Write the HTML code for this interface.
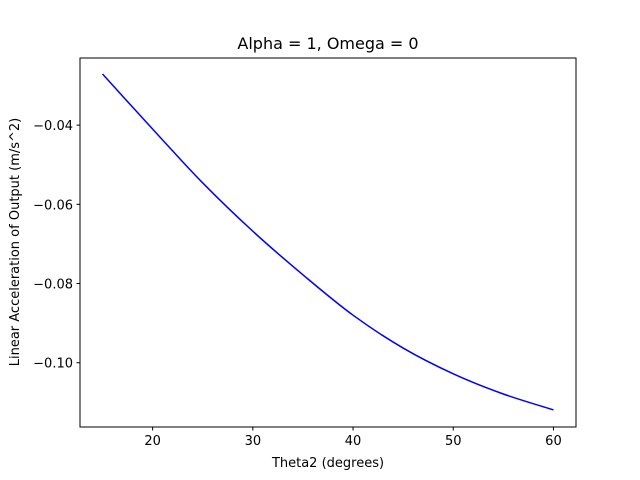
<!DOCTYPE html>
<html><head><meta charset="utf-8"><style>
body{margin:0;background:#fff}
svg{display:block;font-family:"DejaVu Sans","Liberation Sans",sans-serif}
</style></head><body>
<svg id="chart" width="640" height="480">
<rect x="0" y="0" width="640" height="480" fill="#fff"/>
<text x="328" y="49" text-anchor="middle" font-size="16">Alpha = 1, Omega = 0</text>
<text x="328" y="467" text-anchor="middle" font-size="13">Theta2 (degrees)</text>
<text x="19" y="242" text-anchor="middle" font-size="13" transform="rotate(-90 19 242)">Linear Acceleration of Output (m/s^2)</text>
<g id="ticks"></g>
<path id="line" fill="none" stroke="#0000ff" stroke-width="1.5"/>
<rect x="80" y="58" width="496" height="369" fill="none" stroke="#000" stroke-width="1"/>
</svg>
<script>
const thetas=[15,20,25,30,35,40,45,50,55,60];
const accel=[-0.0271,-0.0410,-0.0546,-0.0668,-0.0778,-0.0880,-0.0963,-0.1028,-0.1079,-0.1119];
const xTicks=[20,30,40,50,60];
const yTicks=[-0.04,-0.06,-0.08,-0.10];
const yTickLabels=["−0.04","−0.06","−0.08","−0.10"];
const X0=80,X1=576,Y0=58,Y1=427;
const xmin=12.75,xmax=62.25,ymin=-0.11623,ymax=-0.02305;
function sx(v){return X0+(v-xmin)/(xmax-xmin)*(X1-X0);}
function sy(v){return Y1-(v-ymin)/(ymax-ymin)*(Y1-Y0);}
const NS="http://www.w3.org/2000/svg";
const g=document.getElementById('ticks');
function mk(t,a){const e=document.createElementNS(NS,t);for(const k in a)e.setAttribute(k,a[k]);return e;}
xTicks.forEach(v=>{
 const x=sx(v);
 const l=mk('line',{x1:x,x2:x,y1:Y1,y2:Y1+3.5,stroke:'#000'});
 
 
 g.appendChild(l);
 const t=mk('text',{x:x,y:Y1+18,'text-anchor':'middle','font-size':'13'});
 
 
 t.textContent=v;g.appendChild(t);
});
yTicks.forEach((v,i)=>{
 const y=sy(v);
 const l=mk('line',{x1:X0-3.5,x2:X0,y1:y,y2:y,stroke:'#000'});
 
 
 g.appendChild(l);
 const t=mk('text',{x:X0-7,y:y+5,'text-anchor':'end','font-size':'13'});
 
 
 t.textContent=yTickLabels[i];g.appendChild(t);
});
const pts=thetas.map((t,i)=>[sx(t),sy(accel[i])]);
let d='M'+pts[0][0]+','+pts[0][1];
for(let i=0;i<pts.length-1;i++){
 const p0=pts[Math.max(0,i-1)],p1=pts[i],p2=pts[i+1],p3=pts[Math.min(pts.length-1,i+2)];
 const c1=[p1[0]+(p2[0]-p0[0])/6,p1[1]+(p2[1]-p0[1])/6];
 const c2=[p2[0]-(p3[0]-p1[0])/6,p2[1]-(p3[1]-p1[1])/6];
 d+=' C'+c1+' '+c2+' '+p2;
}
document.getElementById('line').setAttribute('d',d);
</script>
</body></html>
